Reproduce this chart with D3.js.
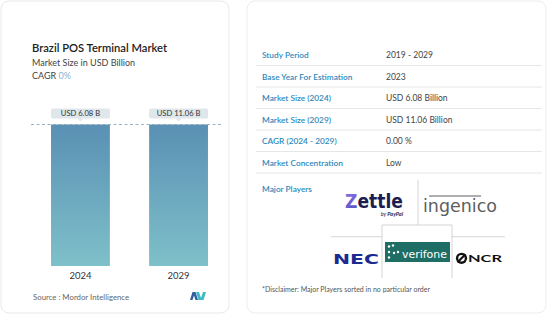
<!DOCTYPE html>
<html><head><meta charset="utf-8">
<script src="https://cdn.jsdelivr.net/npm/d3@7"></script>
<style>
html,body{margin:0;padding:0;background:#fff;}
svg{display:block;font-family:Lato,"Open Sans",sans-serif;}
</style></head>
<body>
<svg id="c" width="550" height="315"></svg>
<script>
const years = ["2024", "2029"];
const values = [6.08, 11.06];
const valueLabels = ["USD 6.08 B", "USD 11.06 B"];
const barLevels = [1, 1]; // bars drawn at equal height (CAGR 0%)
const tableLabels = ["Study Period", "Base Year For Estimation", "Market Size (2024)", "Market Size (2029)", "CAGR (2024 - 2029)", "Market Concentration"];
const tableValues = ["2019 - 2029", "2023", "USD 6.08 Billion", "USD 11.06 Billion", "0.00 %", "Low"];

const svg = d3.select("#c");
const defs = svg.append("defs");
const g1 = defs.append("linearGradient").attr("id","barG").attr("x1",0).attr("y1",0).attr("x2",0).attr("y2",1);
g1.append("stop").attr("offset","0%").attr("stop-color","#5a90b4");
g1.append("stop").attr("offset","100%").attr("stop-color","#7ec0c9");
const gz = defs.append("linearGradient").attr("id","zG").attr("x1",0).attr("y1",0).attr("x2",1).attr("y2",1);
gz.append("stop").attr("offset","0%").attr("stop-color","#8a74e6");
gz.append("stop").attr("offset","100%").attr("stop-color","#3b3aa8");

// cards
svg.append("rect").attr("x",1).attr("y",1).attr("width",228).attr("height",312).attr("rx",8)
  .attr("fill","#fff").attr("stroke","#e9e9e9");
svg.append("rect").attr("x",247).attr("y",1).attr("width",299).attr("height",312).attr("rx",8)
  .attr("fill","#fff").attr("stroke","#ededed");

// titles
svg.append("text").attr("x",32).attr("y",52).attr("font-size",11.2).attr("font-weight",600).attr("fill","#222").text("Brazil POS Terminal Market");
svg.append("text").attr("x",32).attr("y",66).attr("font-size",9).attr("fill","#444").text("Market Size in USD Billion");
const cg = svg.append("text").attr("x",32).attr("y",79).attr("font-size",9).attr("fill","#444");
cg.append("tspan").text("CAGR ");
cg.append("tspan").attr("fill","#86b3d3").text("0%");

// scales
const x = d3.scaleBand().domain(years).range([31.4, 227.6]).paddingInner(0.4).paddingOuter(0.2);
const y = d3.scaleLinear().domain([0, 1]).range([266, 124.5]);

svg.append("g").selectAll("rect").data(years).join("rect")
  .attr("x", d => x(d)).attr("width", x.bandwidth())
  .attr("y", (d,i) => y(barLevels[i])).attr("height", (d,i) => y(0) - y(barLevels[i]))
  .attr("fill","url(#barG)");

svg.append("line").attr("x1",31).attr("x2",222).attr("y1",y(1)).attr("y2",y(1))
  .attr("stroke","#8ea8b8").attr("stroke-width",0.9).attr("stroke-dasharray","3,2.5");

// callouts
const cl = svg.append("g").selectAll("g").data(years).join("g");
cl.append("rect").attr("x", d => x(d)).attr("width", x.bandwidth()).attr("y",108.5).attr("height",10).attr("rx",1.5).attr("fill","#dfe7eb");
cl.append("path").attr("d", d => { const cx = x(d)+x.bandwidth()/2; return `M${cx-3},118.5L${cx},121.5L${cx+3},118.5Z`; }).attr("fill","#dfe7eb");
cl.append("text").attr("x", d => x(d)+x.bandwidth()/2).attr("y",116.3).attr("text-anchor","middle")
  .attr("font-size",7.6).attr("fill","#333").text((d,i) => valueLabels[i]);

// axis
const ax = svg.append("g").attr("transform","translate(0,268)").call(d3.axisBottom(x).tickSize(0).tickPadding(4));
ax.select(".domain").remove();
ax.selectAll("text").attr("font-size",9.5).attr("fill","#333").attr("font-family","Lato, sans-serif");

svg.append("text").attr("x",33).attr("y",299.5).attr("font-size",7.8).attr("fill","#666").text("Source :  Mordor Intelligence");
// Mordor logo
const ml = svg.append("g").attr("transform","translate(190,292)");
ml.append("path").attr("d","M0,8L2.5,0L5.5,0L8,8L5.5,8L4,3.5L2.5,8Z").attr("fill","#2f5f9e");
ml.append("path").attr("d","M6,0L9,0L11,6L13,0L16,0L13.5,8L8.5,8Z").attr("fill","#3fb8c8");

// table
const tb = svg.append("g");
tableLabels.forEach((l,i) => {
  const yb = 58 + i*21.5;
  tb.append("text").attr("x",262).attr("y",yb).attr("font-size",8.3).attr("font-weight",600).attr("fill","#2e89bd").text(l);
  tb.append("text").attr("x",386).attr("y",yb).attr("font-size",8.5).attr("fill","#444").text(tableValues[i]);
  tb.append("line").attr("x1",256).attr("x2",542).attr("y1",65.5+i*21.5).attr("y2",65.5+i*21.5).attr("stroke","#e6e6e6");
});

svg.append("text").attr("x",262).attr("y",192).attr("font-size",8.3).attr("font-weight",600).attr("fill","#2e89bd").text("Major Players");

// logo grid
const lg = svg.append("g").attr("stroke","#c9c9c9").attr("stroke-width",0.8).attr("fill","none");
lg.append("line").attr("x1",418).attr("x2",418).attr("y1",180).attr("y2",225);
lg.append("line").attr("x1",331).attr("x2",382).attr("y1",236.7).attr("y2",236.7);
lg.append("line").attr("x1",452).attr("x2",505).attr("y1",236.7).attr("y2",236.7);
lg.append("path").attr("d","M382,278L382,225L452,225L452,278");

// Zettle
const z = svg.append("text").attr("x",345).attr("y",207.5).attr("font-size",19).attr("font-weight",700).attr("font-family","'DejaVu Sans', sans-serif")
  .attr("textLength",58).attr("lengthAdjust","spacingAndGlyphs").attr("fill","#1d1d4f");
z.append("tspan").attr("fill","url(#zG)").text("Z");
z.append("tspan").text("ettle");
const bp = svg.append("text").attr("x",403).attr("y",215.5).attr("text-anchor","end").attr("font-size",5.5).attr("font-style","italic").attr("fill","#1d1d4f");
bp.append("tspan").attr("font-weight",400).text("by ");
bp.append("tspan").attr("font-weight",700).text("PayPal");

// ingenico
svg.append("text").attr("x",423).attr("y",211.5).attr("font-size",17).attr("fill","#5e5e5e")
  .attr("font-family","'DejaVu Sans', sans-serif").attr("textLength",74).attr("lengthAdjust","spacingAndGlyphs").text("ingenico");
svg.append("line").attr("x1",429).attr("x2",481).attr("y1",196).attr("y2",196).attr("stroke","#5e5e5e").attr("stroke-width",1.2);

// NEC
svg.append("text").attr("x",333).attr("y",263.5).attr("font-size",14).attr("font-weight",900).attr("font-family","'DejaVu Sans', sans-serif")
  .attr("textLength",46).attr("lengthAdjust","spacingAndGlyphs").attr("fill","#1b2b8f").text("NEC");

// verifone
svg.append("rect").attr("x",385).attr("y",242).attr("width",65).attr("height",20).attr("fill","#1f6e66");
[[389,246.5],[393,245.5],[389,252],[394,253],[389,257.5],[398,252]].forEach(p => svg.append("circle").attr("cx",p[0]).attr("cy",p[1]).attr("r",1.2).attr("fill","#fff"));
svg.append("text").attr("x",402).attr("y",258.3).attr("font-size",11).attr("fill","#fff")
  .attr("textLength",45).attr("lengthAdjust","spacingAndGlyphs").attr("font-family","'DejaVu Sans', sans-serif").text("verifone");

// NCR
const nc = svg.append("g").attr("transform","translate(461.5,258.3)");
nc.append("circle").attr("r",5.6).attr("fill","#111");
nc.append("circle").attr("r",3.2).attr("fill","#fff");
nc.append("line").attr("x1",-4).attr("y1",4).attr("x2",4).attr("y2",-4).attr("stroke","#111").attr("stroke-width",2.2);
svg.append("text").attr("x",468).attr("y",262.3).attr("font-size",10).attr("font-weight",700).attr("fill","#111")
  .attr("textLength",34).attr("lengthAdjust","spacingAndGlyphs").text("NCR");

svg.append("text").attr("x",262).attr("y",292).attr("font-size",7).attr("fill","#555").text("*Disclaimer: Major Players sorted in no particular order");
</script>
</body></html>
